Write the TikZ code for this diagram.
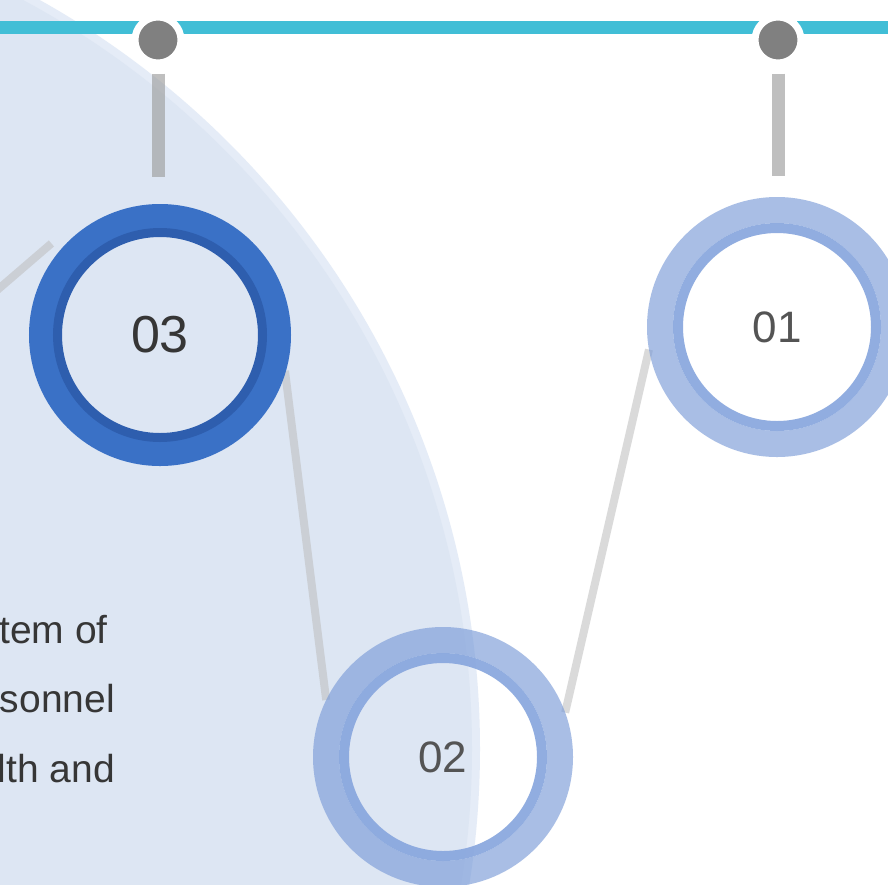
\documentclass[tikz,border=0pt]{standalone}
\usepackage{fontspec}
\setmainfont{Liberation Sans}
\definecolor{bgout}{HTML}{E5ECF7}
\definecolor{bgin}{HTML}{DDE6F3}
\definecolor{cyanline}{HTML}{41BED6}
\definecolor{dotgray}{HTML}{808080}
\definecolor{bargray}{HTML}{9E9E9E}
\definecolor{linkgray}{HTML}{BDBDBD}
\definecolor{ringA}{HTML}{3A71C6}
\definecolor{bandA}{HTML}{2E5EAE}
\definecolor{ringB}{HTML}{7B9CD8}
\definecolor{bandB}{HTML}{86A5DD}
\definecolor{txt}{HTML}{363636}
\tikzset{
  holder/.style={circle, minimum size=260pt, inner sep=0pt, outer sep=0pt},
  dotnode/.style={circle, fill=dotgray, draw=white, line width=7pt, minimum size=46pt, inner sep=0pt},
  barline/.style={draw=bargray, draw opacity=0.65, line width=13pt},
  link/.style={draw=linkgray, draw opacity=0.55, line width=8pt},
  bodytext/.style={font=\fontsize{39}{41}\selectfont, text=txt, inner sep=0pt},
}
\begin{document}
\begin{tikzpicture}[x=1pt,y=-1pt]
\useasboundingbox (0,0) rectangle (888,884);
\clip (0,0) rectangle (888,884);
\fill[white] (0,0) rectangle (888,884);
% background arc region
\fill[bgout] (-377,749) circle[radius=857pt];
\fill[bgin] (-377,749) circle[radius=849pt];
% top line and dots
\draw[cyanline, line width=13pt] (0,27) -- (888,27);
\node[dotnode] (d3) at (158,40) {};
\node[dotnode] (d1) at (778,40) {};
\coordinate (b3) at (158,177);
\coordinate (b1) at (778,176);
\draw[barline] (d3.south) ++(0,7) -- (b3);
\draw[barline] (d1.south) ++(0,7) -- (b1);
% circle holders
\node[holder] (c3) at (160,335) {};
\node[holder] (c2) at (443,757) {};
\node[holder] (c1) at (777,327) {};
\coordinate (lft) at (-5,292);
% connectors
\draw[link] (lft) -- ([shift={(-9pt,8pt)}]c3.140);
\draw[link] (c3.-16) -- (c2.154);
\draw[link] (c2.20) -- (c1.190);
% circle 03
\draw[ringA, line width=25pt] (c3.center) circle[radius=118.5pt];
\draw[bandA, line width=9pt] (c3.center) circle[radius=102.5pt];
\node[font=\fontsize{52}{52}\selectfont, text=txt] at (c3.center) {03};
% circle 02
\draw[ringB, draw opacity=0.65, line width=26pt] (c2.center) circle[radius=117pt];
\draw[bandB, draw opacity=0.9, line width=10pt] (c2.center) circle[radius=99pt];
\node[font=\fontsize{44}{44}\selectfont, text=txt!85] at (c2.center) {02};
% circle 01
\draw[ringB, draw opacity=0.65, line width=26pt] (c1.center) circle[radius=117pt];
\draw[bandB, draw opacity=0.9, line width=10pt] (c1.center) circle[radius=99pt];
\node[font=\fontsize{44}{44}\selectfont, text=txt!85] at (c1.center) {01};
% text
\node[bodytext, anchor=base east] (t1) at (108,643) {tem of};
\node[bodytext, anchor=base east] (t2) at (115,712) {sonnel};
\node[bodytext, anchor=base east] (t3) at (115,782) {lth and};
\end{tikzpicture}
\end{document}
